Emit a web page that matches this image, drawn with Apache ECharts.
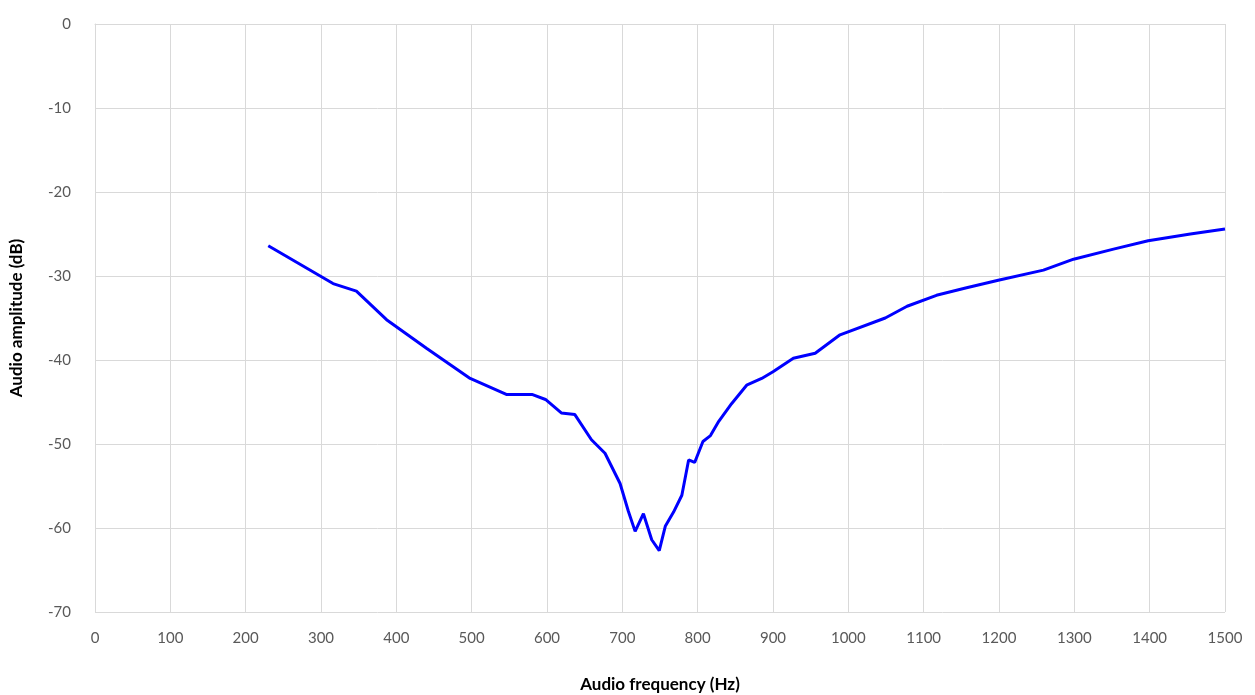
<!DOCTYPE html>
<html>
<head>
<meta charset="utf-8">
<script src="https://cdn.jsdelivr.net/npm/echarts@6/dist/echarts.min.js"></script>
<style>html,body{margin:0;padding:0;background:#fff;}#c{width:1255px;height:695px;}</style>
</head>
<body>
<div id="c"></div>
<script>
var freq = [230, 316, 347, 387, 440, 498, 546, 580, 598, 619, 637, 659, 677, 697, 708, 717, 728, 739, 749, 757, 768, 779, 788, 796, 807, 817, 828, 845, 865, 885, 900, 927, 956, 989, 1049, 1078, 1117, 1157, 1199, 1259, 1299, 1352, 1398, 1454, 1500];
var amp  = [-26.4, -30.9, -31.8, -35.2, -38.6, -42.2, -44.1, -44.1, -44.7, -46.3, -46.5, -49.5, -51.1, -54.7, -58.0, -60.4, -58.3, -61.4, -62.7, -59.8, -58.1, -56.1, -51.9, -52.2, -49.7, -49.0, -47.3, -45.2, -43.0, -42.2, -41.4, -39.8, -39.2, -37.0, -35.0, -33.6, -32.3, -31.4, -30.5, -29.3, -28.0, -26.8, -25.8, -25.0, -24.4];
var xTitle = 'Audio frequency (Hz)';
var yTitle = 'Audio amplitude (dB)';

var pts = freq.map(function (f, i) { return [f, amp[i]]; });
var chart = echarts.init(document.getElementById('c'));
var FF = 'Lato, "Open Sans", sans-serif';
var lab = { color: '#595959', fontSize: 15, fontFamily: FF, formatter: function (v) { return String(v); } };
var grey = { color: '#d9d9d9', width: 1 };
chart.setOption({
  animation: false,
  grid: { left: 95, right: 30, top: 24, bottom: 83, containLabel: false, outerBoundsMode: 'none' },
  xAxis: {
    type: 'value', min: 0, max: 1500, interval: 100,
    name: xTitle, nameLocation: 'middle', nameGap: 64,
    nameTextStyle: { color: '#000', fontSize: 17, fontWeight: 'bold', fontFamily: FF },
    axisLine: { show: true, lineStyle: grey },
    axisTick: { show: false },
    splitLine: { show: true, lineStyle: grey },
    axisLabel: Object.assign({ margin: 19 }, lab)
  },
  yAxis: {
    type: 'value', min: -70, max: 0, interval: 10,
    name: yTitle, nameLocation: 'middle', nameGap: 70, nameRotate: 90,
    nameTextStyle: { color: '#000', fontSize: 17, fontWeight: 'bold', fontFamily: FF },
    axisLine: { show: true, lineStyle: grey },
    axisTick: { show: false },
    splitLine: { show: true, lineStyle: grey },
    axisLabel: Object.assign({ margin: 24 }, lab)
  },
  series: [{
    type: 'line', data: pts, showSymbol: false, smooth: false,
    lineStyle: { color: '#0000ff', width: 3 }
  }]
});
</script>
</body>
</html>
